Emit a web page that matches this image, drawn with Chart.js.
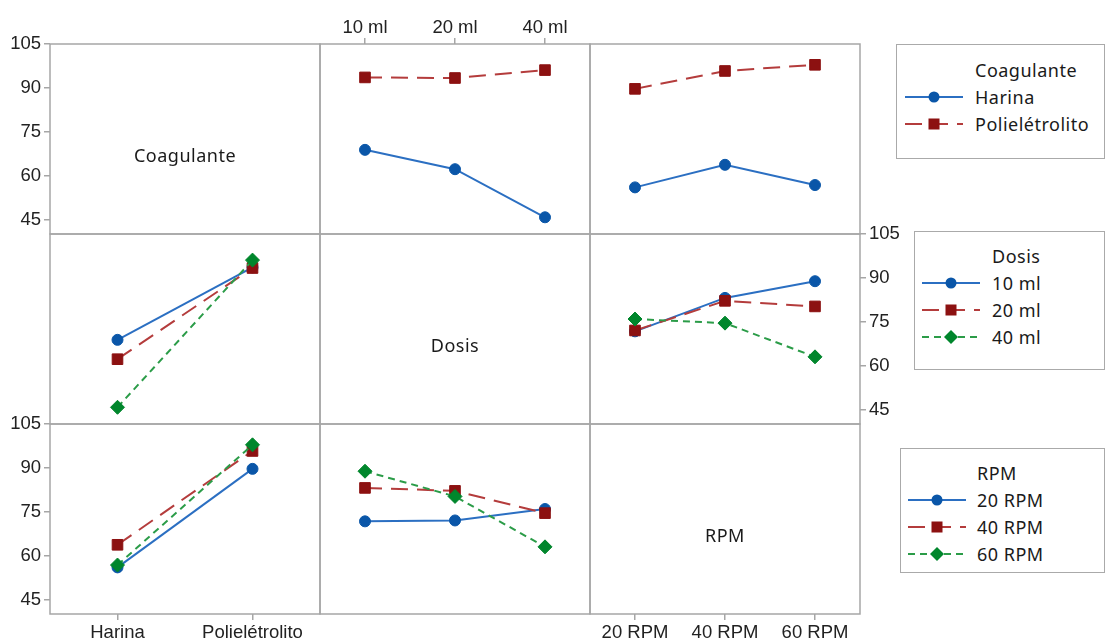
<!DOCTYPE html>
<html>
<head>
<meta charset="utf-8">
<script src="https://cdn.jsdelivr.net/npm/chart.js@4.4.1/dist/chart.umd.min.js"></script>
<style>
  body { margin: 0; background: #fff; }
  #page { position: relative; width: 1105px; height: 644px; overflow: hidden; font-family: 'Noto Sans', sans-serif; color: #222; }
  #page canvas { position: absolute; left: 0; top: 0; pointer-events: none; }
  .diag { position: absolute; font-size: 18px; letter-spacing: 0.5px; transform: translate(-50%, -50%); white-space: nowrap; color: #1a1a1a; }
  .legend { position: absolute; box-sizing: border-box; border: 1.5px solid #aaa; background: #fff; font-size: 18px; letter-spacing: 0.5px; color: #1a1a1a; }
  .legend .row { position: absolute; transform: translateY(-50%); white-space: nowrap; }
  .legend svg { position: absolute; transform: translateY(-50%); }
</style>
</head>
<body>
<div id="page"></div>
<script>
// factor levels
const coagulantes = ['Harina', 'Polielétrolito'];
const dosis = ['10 ml', '20 ml', '40 ml'];
const rpm = ['20 RPM', '40 RPM', '60 RPM'];
const yTicks = [45, 60, 75, 90, 105];

// mean response, Coagulante x Dosis (10, 20, 40 ml)
const harinaDosis = [68.9, 62.3, 45.9];
const polielDosis = [93.6, 93.4, 96.1];
// Coagulante x RPM (20, 40, 60 RPM)
const harinaRpm = [56.1, 63.8, 56.9];
const polielRpm = [89.7, 95.8, 97.9];
// Dosis x RPM
const ml10Rpm = [71.8, 83.2, 88.9];
const ml20Rpm = [72.1, 82.2, 80.3];
const ml40Rpm = [76.0, 74.6, 63.1];

const estilos = [
  { color: '#0a56a8', line: '#2b6fc2', dash: [], shape: 'circle', radius: 5.5 },
  { color: '#8c1111', line: '#b43c3c', dash: [17, 9], shape: 'rect', radius: 7.5 },
  { color: '#00862c', line: '#2b9c48', dash: [7, 5], shape: 'rectRot', radius: 7 }
];

const W = 1105, H = 644;
const colX = [50, 320, 590], rowY = [44, 234, 424];
const PW = 270, PH = 190;
const yMin = 40.2, yMax = 105;
const tickFont = { family: "'Liberation Sans', Arial, sans-serif", size: 18.5 };
const gray = '#a6a6a6';

const col = (arrs, k) => arrs.map(a => a[k]);

const framePlugin = {
  id: 'frame',
  afterDraw(chart) {
    const a = chart.chartArea, ctx = chart.ctx;
    ctx.save();
    ctx.strokeStyle = gray;
    ctx.lineWidth = 1.5;
    ctx.strokeRect(a.left, a.top, a.right - a.left, a.bottom - a.top);
    ctx.restore();
  }
};

function axisGrid() {
  return { display: true, drawOnChartArea: false, offset: false, tickLength: 6, color: gray, lineWidth: 1.5 };
}

function makePanel(r, c, xLabels, series, ax) {
  const page = document.getElementById('page');
  const cv = document.createElement('canvas');
  cv.width = W; cv.height = H;
  page.appendChild(cv);

  const sizes = { left: 50, right: 45, top: 30, bottom: 26 };
  const x0 = colX[c], y0 = rowY[r];
  const pad = {
    left: x0 - (ax.y === 'left' ? sizes.left : 0),
    right: W - (x0 + PW) - (ax.y === 'right' ? sizes.right : 0),
    top: y0 - (ax.x === 'top' ? sizes.top : 0),
    bottom: H - (y0 + PH) - (ax.x === 'bottom' ? sizes.bottom : 0)
  };

  const xs = {
    type: 'category', labels: xLabels, offset: true,
    position: ax.x || 'bottom', display: !!ax.x,
    grid: axisGrid(), border: { display: false },
    ticks: { font: tickFont, color: '#222', padding: ax.x === 'top' ? -1 : 2, maxRotation: 0, autoSkip: false }
  };
  if (ax.x) xs.afterFit = s => { s.height = sizes[ax.x]; };

  const ys = {
    type: 'linear', min: yMin, max: yMax,
    position: ax.y || 'left', display: !!ax.y,
    afterBuildTicks: s => { s.ticks = yTicks.map(v => ({ value: v })); },
    grid: axisGrid(), border: { display: false },
    ticks: { font: tickFont, color: '#222', padding: 3 }
  };
  if (ax.y) ys.afterFit = s => { s.width = sizes[ax.y]; };

  const n = series.length;
  const datasets = series.map((s, i) => {
    const e = estilos[i];
    return {
      label: s.label, data: s.data,
      borderColor: e.line, borderWidth: 2, borderDash: e.dash,
      pointStyle: e.shape, pointRadius: e.radius,
      pointBackgroundColor: e.color, pointBorderColor: e.color, pointBorderWidth: 1,
      tension: 0, clip: false, order: n - 1 - i
    };
  });

  new Chart(cv, {
    type: 'line',
    data: { labels: xLabels, datasets },
    options: {
      responsive: false, animation: false, devicePixelRatio: 1,
      layout: { padding: pad },
      scales: { x: xs, y: ys },
      plugins: { legend: { display: false }, tooltip: { enabled: false } }
    },
    plugins: [framePlugin]
  });
}

// row 1: lines by Coagulante
makePanel(0, 0, coagulantes, [], { y: 'left' });
makePanel(0, 1, dosis, [
  { label: coagulantes[0], data: harinaDosis },
  { label: coagulantes[1], data: polielDosis }
], { x: 'top' });
makePanel(0, 2, rpm, [
  { label: coagulantes[0], data: harinaRpm },
  { label: coagulantes[1], data: polielRpm }
], {});

// row 2: lines by Dosis
makePanel(1, 0, coagulantes, dosis.map((d, k) => ({ label: d, data: col([harinaDosis, polielDosis], k) })), {});
makePanel(1, 1, dosis, [], {});
makePanel(1, 2, rpm, [
  { label: dosis[0], data: ml10Rpm },
  { label: dosis[1], data: ml20Rpm },
  { label: dosis[2], data: ml40Rpm }
], { y: 'right' });

// row 3: lines by RPM
makePanel(2, 0, coagulantes, rpm.map((v, k) => ({ label: v, data: col([harinaRpm, polielRpm], k) })), { y: 'left', x: 'bottom' });
makePanel(2, 1, dosis, rpm.map((v, k) => ({ label: v, data: col([ml10Rpm, ml20Rpm, ml40Rpm], k) })), {});
makePanel(2, 2, rpm, [], { x: 'bottom' });

// diagonal labels
const page = document.getElementById('page');
[['Coagulante', 0], ['Dosis', 1], ['RPM', 2]].forEach(([t, i]) => {
  const d = document.createElement('div');
  d.className = 'diag';
  d.textContent = t;
  d.style.left = (colX[i] + PW / 2) + 'px';
  d.style.top = (rowY[i] + PH / 2 + 16) + 'px';
  page.appendChild(d);
});

function symbol(e) {
  const w = 58, h = 16, cx = w / 2, cy = h / 2;
  let m;
  if (e.shape === 'circle') m = `<circle cx="${cx}" cy="${cy}" r="5.5" fill="${e.color}"/>`;
  else if (e.shape === 'rect') m = `<rect x="${cx - 5.5}" y="${cy - 5.5}" width="11" height="11" fill="${e.color}"/>`;
  else m = `<polygon points="${cx},${cy - 7} ${cx + 7},${cy} ${cx},${cy + 7} ${cx - 7},${cy}" fill="${e.color}"/>`;
  return `<svg width="${w}" height="${h}"><line x1="0" y1="${cy}" x2="${w}" y2="${cy}" stroke="${e.line}" stroke-width="2" stroke-dasharray="${e.dash.join(' ')}"/>${m}</svg>`;
}

function legend(box, title, labels) {
  const d = document.createElement('div');
  d.className = 'legend';
  d.style.left = box.x + 'px'; d.style.top = box.y + 'px';
  d.style.width = box.w + 'px'; d.style.height = box.h + 'px';
  let html = `<div class="row" style="left:${box.tx}px;top:${box.ty}px">${title}</div>`;
  labels.forEach((l, i) => {
    const y = box.ty + 27 * (i + 1);
    html += `<div style="position:absolute;left:${box.sx}px;top:${y}px">${symbol(estilos[i])}</div>`;
    html += `<div class="row" style="left:${box.tx}px;top:${y}px">${l}</div>`;
  });
  d.innerHTML = html;
  page.appendChild(d);
}

legend({ x: 896, y: 44, w: 209, h: 115, tx: 78, ty: 25, sx: 8 }, 'Coagulante', coagulantes);
legend({ x: 914, y: 231, w: 191, h: 139, tx: 77, ty: 24, sx: 7 }, 'Dosis', dosis);
legend({ x: 900, y: 448, w: 205, h: 125, tx: 76, ty: 24, sx: 7 }, 'RPM', rpm);
</script>
</body>
</html>
